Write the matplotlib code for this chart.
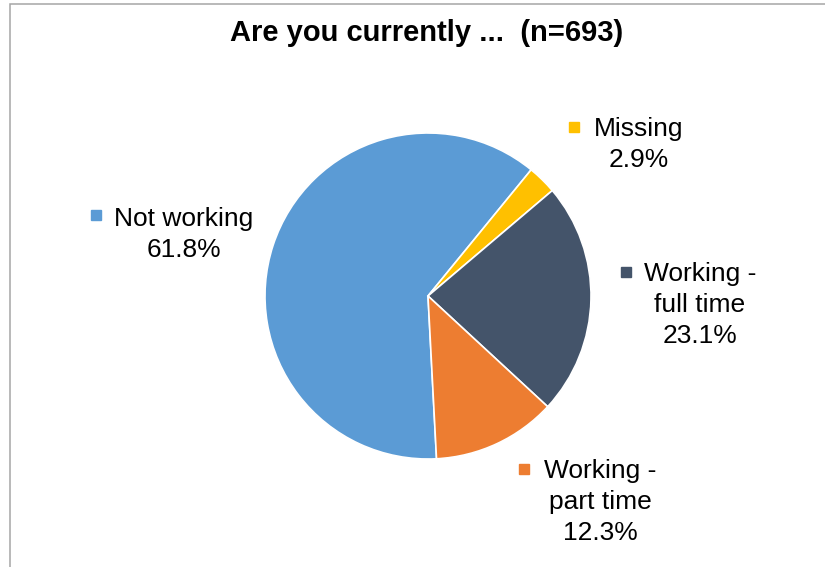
import matplotlib
matplotlib.use('Agg')
import matplotlib.pyplot as plt
from matplotlib.patches import Rectangle

plt.rcParams['font.family'] = ['Liberation Sans', 'DejaVu Sans']

# share of respondents, n=693
categories = ['Not working', 'Missing', 'Working -\nfull time', 'Working -\npart time']
shares = [61.8, 2.9, 23.1, 12.3]
colors = ['#5B9BD5', '#FFC000', '#44546A', '#ED7D31']
title = 'Are you currently ...  (n=693)'

W, H = 825, 567
fig = plt.figure(figsize=(W / 100, H / 100), dpi=100)
ax = fig.add_axes([0, 0, 1, 1])

cx, cy, r = 428, H - 296, 163
ax.pie(shares, colors=colors, startangle=-87, counterclock=False,
       center=(cx, cy), radius=r,
       wedgeprops=dict(edgecolor='white', linewidth=1.2))

ax.set_xlim(0, W)
ax.set_ylim(0, H)
ax.set_aspect('auto')
ax.axis('off')

# chart area border
ax.add_patch(Rectangle((9.5, -20), W + 20, H - 3.5 + 20, fill=False,
                       edgecolor='#A6A6A6', linewidth=1.1))

ax.text(427, H - 33, title, ha='center', va='center',
        fontsize=21, fontweight='bold')

# label anchors: (square x, square y, text centre x, first line y)
spots = [(96, 215, 184, 219),
         (574, 127, 639, 129),
         (626, 272, 700, 274),
         (524, 469, 600, 471)]
for name, val, col, (sx, sy, tx, ty) in zip(categories, shares, colors, spots):
    ax.plot(sx, H - sy, marker='s', markersize=7, color=col, linestyle='none')
    lines = name.split('\n') + ['%.1f%%' % val]
    for i, line in enumerate(lines):
        ax.text(tx, H - ty - 31 * i, line, ha='center', va='center', fontsize=19)

fig.savefig('out.png', dpi=100, facecolor='white')
